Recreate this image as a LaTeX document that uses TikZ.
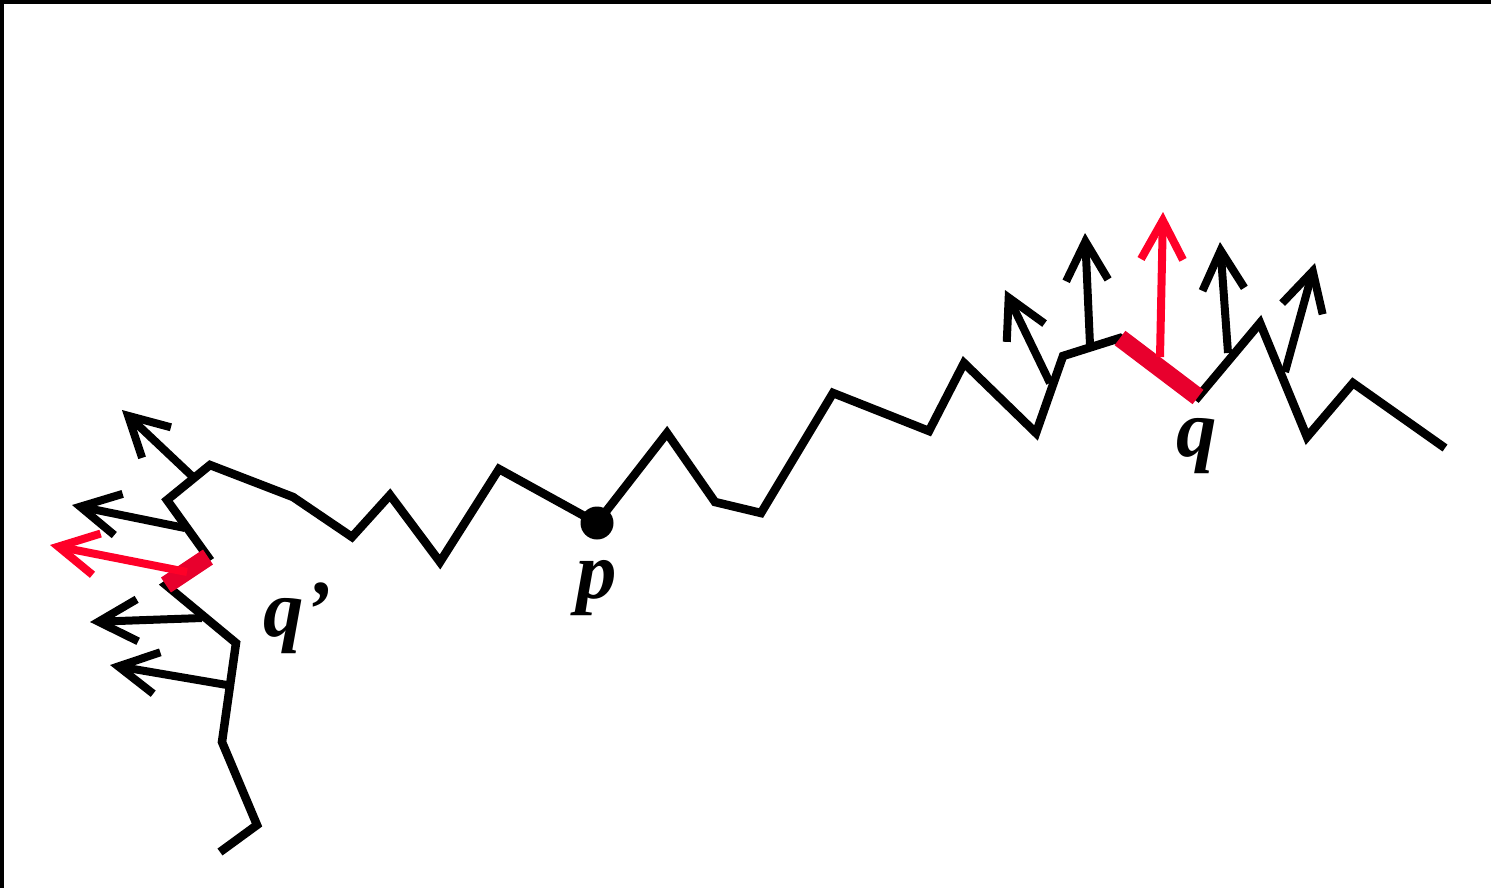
\documentclass[tikz,border=0pt]{standalone}
\usepackage{fontspec}
\setmainfont{Liberation Serif}
\usetikzlibrary{arrows.meta}
\definecolor{segred}{RGB}{232,0,45}
\definecolor{arrred}{RGB}{255,0,40}
\tikzset{
  chain/.style={line width=0.85mm,line join=miter},             % polygonal curve
  hot/.style={line width=1.8mm,segred},                          % marked piece
  nrm/.style={-{Straight Barb[length=3.9mm,width=4.2mm]},line width=0.8mm},
  hotnrm/.style={nrm,arrred},
  lbl/.style={font=\fontsize{23}{27}\selectfont\bfseries\itshape,inner sep=0pt,anchor=base},
  pdot/.style={circle,fill=black,inner sep=0pt,minimum size=3.3mm},
}

\begin{document}
\begin{tikzpicture}[x=0.1mm,y=-0.1mm]
  \useasboundingbox (0,0) rectangle (1491,888);
  % frame edges
  \fill (0,0) rectangle (1491,4);
  \fill (0,0) rectangle (4,888);
  % the chain
  \draw[chain] (220,852) -- (257,825) -- (222,742) -- (236,643) -- (166,585)
    -- (208,557) -- (167,500) -- (210,465) -- (293,497) -- (352,537)
    -- (390,495) -- (440,562) -- (499,469) -- (597,523) -- (667,433)
    -- (715,502) -- (761,513) -- (833,393) -- (929,431) -- (964,363)
    -- (1036,433) -- (1063,356) -- (1120,338) -- (1198,397) -- (1260,323)
    -- (1307,437) -- (1353,383) -- (1445,448);
  \node[pdot] (p) at (597,523) {};
  % bases and tips of the normals
  \coordinate (la1) at (193,477); \coordinate (lt1) at (122,410);
  \coordinate (la2) at (185,528); \coordinate (lt2) at (72,505);
  \coordinate (la3) at (187,572); \coordinate (lt3) at (50,545);
  \coordinate (la4) at (202,618); \coordinate (lt4) at (90,622);
  \coordinate (la5) at (227,685); \coordinate (lt5) at (110,665);
  \coordinate (ra1) at (1050,383); \coordinate (rt1) at (1005,290);
  \coordinate (ra2) at (1090,345); \coordinate (rt2) at (1085,233);
  \coordinate (ra3) at (1160,357); \coordinate (rt3) at (1163,212);
  \coordinate (ra4) at (1228,353); \coordinate (rt4) at (1220,242);
  \coordinate (ra5) at (1285,372); \coordinate (rt5) at (1315,263);
  \foreach \i in {1,2,4,5} {
    \draw[nrm] (la\i) -- (lt\i);
    \draw[nrm] (ra\i) -- (rt\i);
  }
  % marked pieces
  \draw[hot] (166,585) -- (208,557);
  \draw[hot] (1120,338) -- (1198,397);
  \draw[hotnrm] (la3) -- (lt3);
  \draw[hotnrm] (ra3) -- (rt3);
  % labels
  \node[lbl] (plab) at (597,598) {p};
  \node[lbl] (qlab) at (1197,456) {q};
  \node[lbl,anchor=base west] (qqlab) at (263,636) {q’};
\end{tikzpicture}
\end{document}
